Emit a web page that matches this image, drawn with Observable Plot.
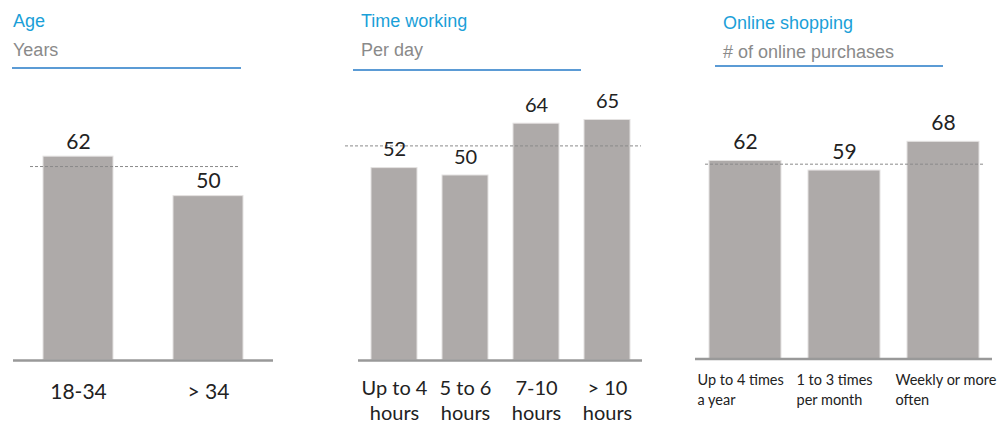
<!DOCTYPE html>
<html>
<head>
<meta charset="utf-8">
<script src="https://cdn.jsdelivr.net/npm/d3@7"></script>
<script src="https://cdn.jsdelivr.net/npm/@observablehq/plot@0.6"></script>
<style>
  html, body { margin: 0; padding: 0; background: #fff; }
  #root { position: relative; width: 998px; height: 424px; overflow: hidden; }
  .panel { position: absolute; top: 0; height: 424px; }
  .title { position: absolute; font-family: "Liberation Sans", Arial, sans-serif; font-size: 18px; color: #1b9fd8; white-space: nowrap; }
  .sub { position: absolute; font-family: "Liberation Sans", Arial, sans-serif; font-size: 18px; color: #8a8a8a; white-space: nowrap; }
  .uline { position: absolute; height: 2px; background: #5b9bd5; }
  .chart { position: absolute; top: 80px; left: 0; }
  .chart svg { overflow: visible; }
</style>
</head>
<body>
<div id="root"></div>
<script>
// ---- Data ----
const ageCategories = ["18-34", "> 34"];
const ageValues = [62, 50];
const ageAverage = 59;

const workCategories = ["Up to 4\nhours", "5 to 6\nhours", "7-10\nhours", "> 10\nhours"];
const workValues = [52, 50, 64, 65];
const workAverage = 58;

const shopCategories = ["Up to 4 times\na year", "1 to 3 times\nper month", "Weekly or more\noften"];
const shopValues = [62, 59, 68];
const shopAverage = 61;

const panelTitles = ["Age", "Time working", "Online shopping"];
const panelSubtitles = ["Years", "Per day", "# of online purchases"];

// ---- Rendering ----
const root = document.getElementById("root");
const BAR = "#aeaaa9";
const INK = "#222222";
const FONT = "Lato, 'Open Sans', sans-serif";

function panel(cfg) {
  const div = document.createElement("div");
  div.className = "panel";
  div.style.left = cfg.left + "px";
  div.style.width = cfg.width + "px";
  const t = document.createElement("div");
  t.className = "title"; t.textContent = cfg.title;
  t.style.left = cfg.titleX + "px"; t.style.top = cfg.titleY + "px";
  const s = document.createElement("div");
  s.className = "sub"; s.textContent = cfg.subtitle;
  s.style.left = cfg.titleX + "px"; s.style.top = (cfg.titleY + 29) + "px";
  const u = document.createElement("div");
  u.className = "uline";
  u.style.left = cfg.lineX1 + "px"; u.style.width = (cfg.lineX2 - cfg.lineX1) + "px";
  u.style.top = cfg.lineY + "px";
  div.append(t, s, u);

  const data = cfg.categories.map((c, i) => ({cat: c, value: cfg.values[i]}));
  const chart = Plot.plot({
    width: cfg.width,
    height: 344,
    marginLeft: cfg.ml,
    marginRight: cfg.mr,
    marginTop: cfg.mt,
    marginBottom: cfg.mb,
    style: {background: "transparent", fontFamily: FONT, overflow: "visible"},
    x: {type: "band", domain: cfg.categories, paddingInner: cfg.pi, paddingOuter: cfg.pi / 2, axis: null},
    y: {domain: [0, cfg.ymax], axis: null},
    marks: [
      Plot.barY(data, {x: "cat", y: "value", fill: BAR, stroke: "#e4e2e1", strokeWidth: 1}),
      Plot.ruleY([0], {stroke: "#999", strokeWidth: 2.5}),
      Plot.ruleY([cfg.avg], {stroke: "#8a8a8a", strokeWidth: 1, strokeDasharray: "3,2",
        insetLeft: cfg.dashL, insetRight: cfg.dashR}),
      Plot.text(data, {x: "cat", y: "value", text: d => String(d.value), lineAnchor: "bottom",
        dy: -cfg.vgap, fontSize: cfg.vfs, fill: INK}),
      Plot.text(data, {x: "cat", y: 0, text: "cat", lineAnchor: "top", dy: cfg.cdy, dx: cfg.cdx,
        textAnchor: cfg.canchor, fontSize: cfg.cfs, lineHeight: cfg.clh, fill: INK})
    ]
  });
  const wrap = document.createElement("div");
  wrap.className = "chart";
  wrap.append(chart);
  div.append(wrap);
  root.append(div);
}

panel({
  left: 0, width: 340, title: panelTitles[0], subtitle: panelSubtitles[0],
  titleX: 13, titleY: 11, lineX1: 12, lineX2: 241, lineY: 67,
  categories: ageCategories, values: ageValues, avg: ageAverage,
  ml: 13, mr: 67, mt: 17, mb: 64, ymax: 80, pi: 60 / 130,
  dashL: 17, dashR: 33, vgap: 8, vfs: 21, cdy: 21, cdx: 0, canchor: "middle", cfs: 21, clh: 1.2
});

panel({
  left: 340, width: 340, title: panelTitles[1], subtitle: panelSubtitles[1],
  titleX: 21, titleY: 11, lineX1: 13, lineX2: 241, lineY: 69,
  categories: workCategories, values: workValues, avg: workAverage,
  ml: 18, mr: 38, mt: 21, mb: 64, ymax: 70, pi: 25 / 71,
  dashL: -13, dashR: 1, vgap: 12, vfs: 20, cdy: 17, cdx: 0, canchor: "middle", cfs: 20, clh: 1.25
});

panel({
  left: 680, width: 318, title: panelTitles[2], subtitle: panelSubtitles[2],
  titleX: 43, titleY: 13, lineX1: 35, lineX2: 263, lineY: 65,
  categories: shopCategories, values: shopValues, avg: shopAverage,
  ml: 15, mr: 6, mt: 23, mb: 65.5, ymax: 80, pi: 27 / 99,
  dashL: 10, dashR: 7, vgap: 12, vfs: 21, cdy: 12, cdx: -48, canchor: "start", cfs: 14.5, clh: 1.38
});
</script>
</body>
</html>
